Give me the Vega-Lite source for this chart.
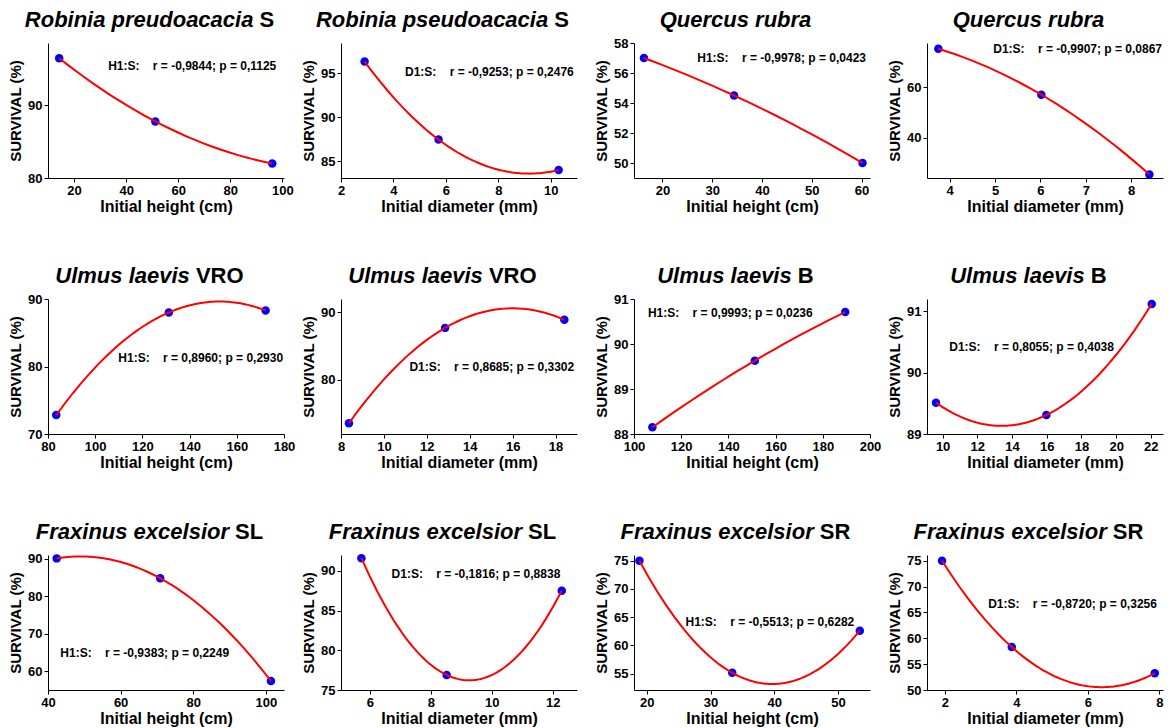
{
"$schema": "https://vega.github.io/schema/vega-lite/v6.json",
"background": "white",
"padding": {"left": 8, "top": 8, "right": 2, "bottom": 2},
"columns": 4,
"spacing": {"row": 121, "column": 57},
"bounds": "flush",
"config": {
 "font": "Liberation Sans",
 "view": {"stroke": null},
 "axis": {"grid": false, "domainColor": "#000000", "tickColor": "#000000", "labelColor": "#000000", "titleColor": "#000000", "labelFont": "Liberation Sans", "titleFont": "Liberation Sans", "labelFontWeight": "bold", "titleFontWeight": "bold", "labelFontSize": 13, "tickSize": 4, "labelPadding": 2, "domainWidth": 1, "tickWidth": 1, "labelFlush": false},
 "axisX": {"titleFontSize": 16, "titlePadding": 1},
 "axisY": {"titleFontSize": 15, "titlePadding": 4, "minExtent": 21, "maxExtent": 21},
 "text": {"font": "Liberation Sans"}
},
"concat": [
{"width":236,"height":135,
 "data":{"values":[{"x":14.3,"y":96.5},{"x":51.2,"y":87.8},{"x":96.1,"y":82.0}]},
 "resolve":{"axis":{"x":"independent","y":"independent"}},
 "layer":[
  {"mark":{"type":"circle","size":72,"color":"#0000ff","opacity":1},
   "encoding":{"x":{"field":"x","type":"quantitative","scale":{"domain":[10,100.6],"nice":false,"zero":false},"axis":{"orient":"bottom","title":"Initial height (cm)","values":[20,40,60,80,100]}},
     "y":{"field":"y","type":"quantitative","scale":{"domain":[80,98.6],"nice":false,"zero":false},"axis":{"orient":"left","title":"SURVIVAL (%)","values":[80,90]}}}},
  {"transform":[{"regression":"y","on":"x","method":"poly","order":2}],
   "mark":{"type":"line","color":"#ff0000","strokeWidth":2},
   "encoding":{"x":{"field":"x","type":"quantitative","scale":{"domain":[10,100.6],"nice":false,"zero":false},"axis":{"orient":"top","title":"Robinia preudoacacia","labels":false,"ticks":false,"domain":false,"titleFontStyle":"italic","titleFontSize":22,"titleX":-23.7,"titleY":-17,"titleAlign":"left","titleBaseline":"alphabetic"}},
     "y":{"field":"y","type":"quantitative","scale":{"domain":[80,98.6],"nice":false,"zero":false},"axis":{"orient":"right","title":"S","labels":false,"ticks":false,"domain":false,"titleFontSize":22,"titleAngle":0,"titleX":-25,"titleY":-17,"titleAlign":"left","titleBaseline":"alphabetic"}}}},
  {"data":{"values":[{"x":33.1,"y":95.4,"label":"H1:S:\u00a0\u00a0\u00a0\u00a0r = -0,9844; p = 0,1125"}]},
   "mark":{"type":"text","align":"left","baseline":"middle","fontSize":12,"fontWeight":"bold","color":"#000000"},
   "encoding":{"x":{"field":"x","type":"quantitative","scale":{"domain":[10,100.6],"nice":false,"zero":false},"axis":null},
     "y":{"field":"y","type":"quantitative","scale":{"domain":[80,98.6],"nice":false,"zero":false},"axis":null},"text":{"field":"label"}}}
 ]},
{"width":236,"height":135,
 "data":{"values":[{"x":2.9,"y":96.3},{"x":5.72,"y":87.45},{"x":10.3,"y":84.0}]},
 "resolve":{"axis":{"x":"independent","y":"independent"}},
 "layer":[
  {"mark":{"type":"circle","size":72,"color":"#0000ff","opacity":1},
   "encoding":{"x":{"field":"x","type":"quantitative","scale":{"domain":[2,11],"nice":false,"zero":false},"axis":{"orient":"bottom","title":"Initial diameter (mm)","values":[2,4,6,8,10]}},
     "y":{"field":"y","type":"quantitative","scale":{"domain":[83.1,98.4],"nice":false,"zero":false},"axis":{"orient":"left","title":"SURVIVAL (%)","values":[85,90,95]}}}},
  {"transform":[{"regression":"y","on":"x","method":"poly","order":2}],
   "mark":{"type":"line","color":"#ff0000","strokeWidth":2},
   "encoding":{"x":{"field":"x","type":"quantitative","scale":{"domain":[2,11],"nice":false,"zero":false},"axis":{"orient":"top","title":"Robinia pseudoacacia","labels":false,"ticks":false,"domain":false,"titleFontStyle":"italic","titleFontSize":22,"titleX":-25.6,"titleY":-17,"titleAlign":"left","titleBaseline":"alphabetic"}},
     "y":{"field":"y","type":"quantitative","scale":{"domain":[83.1,98.4],"nice":false,"zero":false},"axis":{"orient":"right","title":"S","labels":false,"ticks":false,"domain":false,"titleFontSize":22,"titleAngle":0,"titleX":-23.2,"titleY":-17,"titleAlign":"left","titleBaseline":"alphabetic"}}}},
  {"data":{"values":[{"x":4.44,"y":95.1,"label":"D1:S:\u00a0\u00a0\u00a0\u00a0r = -0,9253; p = 0,2476"}]},
   "mark":{"type":"text","align":"left","baseline":"middle","fontSize":12,"fontWeight":"bold","color":"#000000"},
   "encoding":{"x":{"field":"x","type":"quantitative","scale":{"domain":[2,11],"nice":false,"zero":false},"axis":null},
     "y":{"field":"y","type":"quantitative","scale":{"domain":[83.1,98.4],"nice":false,"zero":false},"axis":null},"text":{"field":"label"}}}
 ]},
{"width":236,"height":135,
 "data":{"values":[{"x":16.3,"y":57.0},{"x":34.4,"y":54.5},{"x":60.2,"y":50.0}]},
 "resolve":{"axis":{"x":"independent","y":"independent"}},
 "layer":[
  {"mark":{"type":"circle","size":72,"color":"#0000ff","opacity":1},
   "encoding":{"x":{"field":"x","type":"quantitative","scale":{"domain":[14.3,61.7],"nice":false,"zero":false},"axis":{"orient":"bottom","title":"Initial height (cm)","values":[20,30,40,50,60]}},
     "y":{"field":"y","type":"quantitative","scale":{"domain":[49,58],"nice":false,"zero":false},"axis":{"orient":"left","title":"SURVIVAL (%)","values":[50,52,54,56,58]}}}},
  {"transform":[{"regression":"y","on":"x","method":"poly","order":2}],
   "mark":{"type":"line","color":"#ff0000","strokeWidth":2},
   "encoding":{"x":{"field":"x","type":"quantitative","scale":{"domain":[14.3,61.7],"nice":false,"zero":false},"axis":{"orient":"top","title":"Quercus rubra","labels":false,"ticks":false,"domain":false,"titleFontStyle":"italic","titleFontSize":22,"titleX":101,"titleY":-17,"titleAlign":"center","titleBaseline":"alphabetic"}},
     "y":{"field":"y","type":"quantitative","scale":{"domain":[49,58],"nice":false,"zero":false},"axis":null}}},
  {"data":{"values":[{"x":27.0,"y":57.0,"label":"H1:S:\u00a0\u00a0\u00a0\u00a0r = -0,9978; p = 0,0423"}]},
   "mark":{"type":"text","align":"left","baseline":"middle","fontSize":12,"fontWeight":"bold","color":"#000000"},
   "encoding":{"x":{"field":"x","type":"quantitative","scale":{"domain":[14.3,61.7],"nice":false,"zero":false},"axis":null},
     "y":{"field":"y","type":"quantitative","scale":{"domain":[49,58],"nice":false,"zero":false},"axis":null},"text":{"field":"label"}}}
 ]},
{"width":236,"height":135,
 "data":{"values":[{"x":3.75,"y":75.2},{"x":6.02,"y":57.0},{"x":8.4,"y":25.4}]},
 "resolve":{"axis":{"x":"independent","y":"independent"}},
 "layer":[
  {"mark":{"type":"circle","size":72,"color":"#0000ff","opacity":1},
   "encoding":{"x":{"field":"x","type":"quantitative","scale":{"domain":[3.5,8.7],"nice":false,"zero":false},"axis":{"orient":"bottom","title":"Initial diameter (mm)","values":[4,5,6,7,8]}},
     "y":{"field":"y","type":"quantitative","scale":{"domain":[24,77.5],"nice":false,"zero":false},"axis":{"orient":"left","title":"SURVIVAL (%)","values":[40,60]}}}},
  {"transform":[{"regression":"y","on":"x","method":"poly","order":2}],
   "mark":{"type":"line","color":"#ff0000","strokeWidth":2},
   "encoding":{"x":{"field":"x","type":"quantitative","scale":{"domain":[3.5,8.7],"nice":false,"zero":false},"axis":{"orient":"top","title":"Quercus rubra","labels":false,"ticks":false,"domain":false,"titleFontStyle":"italic","titleFontSize":22,"titleX":101,"titleY":-17,"titleAlign":"center","titleBaseline":"alphabetic"}},
     "y":{"field":"y","type":"quantitative","scale":{"domain":[24,77.5],"nice":false,"zero":false},"axis":null}}},
  {"data":{"values":[{"x":4.96,"y":75.3,"label":"D1:S:\u00a0\u00a0\u00a0\u00a0r = -0,9907; p = 0,0867"}]},
   "mark":{"type":"text","align":"left","baseline":"middle","fontSize":12,"fontWeight":"bold","color":"#000000"},
   "encoding":{"x":{"field":"x","type":"quantitative","scale":{"domain":[3.5,8.7],"nice":false,"zero":false},"axis":null},
     "y":{"field":"y","type":"quantitative","scale":{"domain":[24,77.5],"nice":false,"zero":false},"axis":null},"text":{"field":"label"}}}
 ]},
{"width":236,"height":135,
 "data":{"values":[{"x":83.5,"y":72.8},{"x":131.2,"y":88.0},{"x":172.2,"y":88.3}]},
 "resolve":{"axis":{"x":"independent","y":"independent"}},
 "layer":[
  {"mark":{"type":"circle","size":72,"color":"#0000ff","opacity":1},
   "encoding":{"x":{"field":"x","type":"quantitative","scale":{"domain":[80,180],"nice":false,"zero":false},"axis":{"orient":"bottom","title":"Initial height (cm)","values":[80,100,120,140,160,180]}},
     "y":{"field":"y","type":"quantitative","scale":{"domain":[70,90],"nice":false,"zero":false},"axis":{"orient":"left","title":"SURVIVAL (%)","values":[70,80,90]}}}},
  {"transform":[{"regression":"y","on":"x","method":"poly","order":2}],
   "mark":{"type":"line","color":"#ff0000","strokeWidth":2},
   "encoding":{"x":{"field":"x","type":"quantitative","scale":{"domain":[80,180],"nice":false,"zero":false},"axis":{"orient":"top","title":"Ulmus laevis","labels":false,"ticks":false,"domain":false,"titleFontStyle":"italic","titleFontSize":22,"titleX":6.8,"titleY":-17,"titleAlign":"left","titleBaseline":"alphabetic"}},
     "y":{"field":"y","type":"quantitative","scale":{"domain":[70,90],"nice":false,"zero":false},"axis":{"orient":"right","title":"VRO","labels":false,"ticks":false,"domain":false,"titleFontSize":22,"titleAngle":0,"titleX":-88.6,"titleY":-17,"titleAlign":"left","titleBaseline":"alphabetic"}}}},
  {"data":{"values":[{"x":109.8,"y":81.2,"label":"H1:S:\u00a0\u00a0\u00a0\u00a0r = 0,8960; p = 0,2930"}]},
   "mark":{"type":"text","align":"left","baseline":"middle","fontSize":12,"fontWeight":"bold","color":"#000000"},
   "encoding":{"x":{"field":"x","type":"quantitative","scale":{"domain":[80,180],"nice":false,"zero":false},"axis":null},
     "y":{"field":"y","type":"quantitative","scale":{"domain":[70,90],"nice":false,"zero":false},"axis":null},"text":{"field":"label"}}}
 ]},
{"width":236,"height":135,
 "data":{"values":[{"x":8.37,"y":73.5},{"x":12.85,"y":87.7},{"x":18.41,"y":88.9}]},
 "resolve":{"axis":{"x":"independent","y":"independent"}},
 "layer":[
  {"mark":{"type":"circle","size":72,"color":"#0000ff","opacity":1},
   "encoding":{"x":{"field":"x","type":"quantitative","scale":{"domain":[8,19],"nice":false,"zero":false},"axis":{"orient":"bottom","title":"Initial diameter (mm)","values":[8,10,12,14,16,18]}},
     "y":{"field":"y","type":"quantitative","scale":{"domain":[71.9,92],"nice":false,"zero":false},"axis":{"orient":"left","title":"SURVIVAL (%)","values":[80,90]}}}},
  {"transform":[{"regression":"y","on":"x","method":"poly","order":2}],
   "mark":{"type":"line","color":"#ff0000","strokeWidth":2},
   "encoding":{"x":{"field":"x","type":"quantitative","scale":{"domain":[8,19],"nice":false,"zero":false},"axis":{"orient":"top","title":"Ulmus laevis","labels":false,"ticks":false,"domain":false,"titleFontStyle":"italic","titleFontSize":22,"titleX":6.8,"titleY":-17,"titleAlign":"left","titleBaseline":"alphabetic"}},
     "y":{"field":"y","type":"quantitative","scale":{"domain":[71.9,92],"nice":false,"zero":false},"axis":{"orient":"right","title":"VRO","labels":false,"ticks":false,"domain":false,"titleFontSize":22,"titleAngle":0,"titleX":-88.6,"titleY":-17,"titleAlign":"left","titleBaseline":"alphabetic"}}}},
  {"data":{"values":[{"x":11.19,"y":81.9,"label":"D1:S:\u00a0\u00a0\u00a0\u00a0r = 0,8685; p = 0,3302"}]},
   "mark":{"type":"text","align":"left","baseline":"middle","fontSize":12,"fontWeight":"bold","color":"#000000"},
   "encoding":{"x":{"field":"x","type":"quantitative","scale":{"domain":[8,19],"nice":false,"zero":false},"axis":null},
     "y":{"field":"y","type":"quantitative","scale":{"domain":[71.9,92],"nice":false,"zero":false},"axis":null},"text":{"field":"label"}}}
 ]},
{"width":236,"height":135,
 "data":{"values":[{"x":107.8,"y":88.15},{"x":151.2,"y":89.63},{"x":189.5,"y":90.71}]},
 "resolve":{"axis":{"x":"independent","y":"independent"}},
 "layer":[
  {"mark":{"type":"circle","size":72,"color":"#0000ff","opacity":1},
   "encoding":{"x":{"field":"x","type":"quantitative","scale":{"domain":[100,200],"nice":false,"zero":false},"axis":{"orient":"bottom","title":"Initial height (cm)","values":[100,120,140,160,180,200]}},
     "y":{"field":"y","type":"quantitative","scale":{"domain":[88,91],"nice":false,"zero":false},"axis":{"orient":"left","title":"SURVIVAL (%)","values":[88,89,90,91]}}}},
  {"transform":[{"regression":"y","on":"x","method":"poly","order":2}],
   "mark":{"type":"line","color":"#ff0000","strokeWidth":2},
   "encoding":{"x":{"field":"x","type":"quantitative","scale":{"domain":[100,200],"nice":false,"zero":false},"axis":{"orient":"top","title":"Ulmus laevis","labels":false,"ticks":false,"domain":false,"titleFontStyle":"italic","titleFontSize":22,"titleX":22.7,"titleY":-17,"titleAlign":"left","titleBaseline":"alphabetic"}},
     "y":{"field":"y","type":"quantitative","scale":{"domain":[88,91],"nice":false,"zero":false},"axis":{"orient":"right","title":"B","labels":false,"ticks":false,"domain":false,"titleFontSize":22,"titleAngle":0,"titleX":-72.7,"titleY":-17,"titleAlign":"left","titleBaseline":"alphabetic"}}}},
  {"data":{"values":[{"x":105.9,"y":90.68,"label":"H1:S:\u00a0\u00a0\u00a0\u00a0r = 0,9993; p = 0,0236"}]},
   "mark":{"type":"text","align":"left","baseline":"middle","fontSize":12,"fontWeight":"bold","color":"#000000"},
   "encoding":{"x":{"field":"x","type":"quantitative","scale":{"domain":[100,200],"nice":false,"zero":false},"axis":null},
     "y":{"field":"y","type":"quantitative","scale":{"domain":[88,91],"nice":false,"zero":false},"axis":null},"text":{"field":"label"}}}
 ]},
{"width":236,"height":135,
 "data":{"values":[{"x":9.62,"y":89.51},{"x":15.98,"y":89.31},{"x":22.05,"y":91.12}]},
 "resolve":{"axis":{"x":"independent","y":"independent"}},
 "layer":[
  {"mark":{"type":"circle","size":72,"color":"#0000ff","opacity":1},
   "encoding":{"x":{"field":"x","type":"quantitative","scale":{"domain":[9.1,22.7],"nice":false,"zero":false},"axis":{"orient":"bottom","title":"Initial diameter (mm)","values":[10,12,14,16,18,20,22]}},
     "y":{"field":"y","type":"quantitative","scale":{"domain":[89,91.2],"nice":false,"zero":false},"axis":{"orient":"left","title":"SURVIVAL (%)","values":[89,90,91]}}}},
  {"transform":[{"regression":"y","on":"x","method":"poly","order":2}],
   "mark":{"type":"line","color":"#ff0000","strokeWidth":2},
   "encoding":{"x":{"field":"x","type":"quantitative","scale":{"domain":[9.1,22.7],"nice":false,"zero":false},"axis":{"orient":"top","title":"Ulmus laevis","labels":false,"ticks":false,"domain":false,"titleFontStyle":"italic","titleFontSize":22,"titleX":22.7,"titleY":-17,"titleAlign":"left","titleBaseline":"alphabetic"}},
     "y":{"field":"y","type":"quantitative","scale":{"domain":[89,91.2],"nice":false,"zero":false},"axis":{"orient":"right","title":"B","labels":false,"ticks":false,"domain":false,"titleFontSize":22,"titleAngle":0,"titleX":-72.7,"titleY":-17,"titleAlign":"left","titleBaseline":"alphabetic"}}}},
  {"data":{"values":[{"x":10.38,"y":90.42,"label":"D1:S:\u00a0\u00a0\u00a0\u00a0r = 0,8055; p = 0,4038"}]},
   "mark":{"type":"text","align":"left","baseline":"middle","fontSize":12,"fontWeight":"bold","color":"#000000"},
   "encoding":{"x":{"field":"x","type":"quantitative","scale":{"domain":[9.1,22.7],"nice":false,"zero":false},"axis":null},
     "y":{"field":"y","type":"quantitative","scale":{"domain":[89,91.2],"nice":false,"zero":false},"axis":null},"text":{"field":"label"}}}
 ]},
{"width":236,"height":135,
 "data":{"values":[{"x":42.4,"y":90.1},{"x":70.9,"y":84.8},{"x":101.4,"y":57.4}]},
 "resolve":{"axis":{"x":"independent","y":"independent"}},
 "layer":[
  {"mark":{"type":"circle","size":72,"color":"#0000ff","opacity":1},
   "encoding":{"x":{"field":"x","type":"quantitative","scale":{"domain":[40,105],"nice":false,"zero":false},"axis":{"orient":"bottom","title":"Initial height (cm)","values":[40,60,80,100]}},
     "y":{"field":"y","type":"quantitative","scale":{"domain":[55,91],"nice":false,"zero":false},"axis":{"orient":"left","title":"SURVIVAL (%)","values":[60,70,80,90]}}}},
  {"transform":[{"regression":"y","on":"x","method":"poly","order":2}],
   "mark":{"type":"line","color":"#ff0000","strokeWidth":2},
   "encoding":{"x":{"field":"x","type":"quantitative","scale":{"domain":[40,105],"nice":false,"zero":false},"axis":{"orient":"top","title":"Fraxinus excelsior","labels":false,"ticks":false,"domain":false,"titleFontStyle":"italic","titleFontSize":22,"titleX":-12.7,"titleY":-17,"titleAlign":"left","titleBaseline":"alphabetic"}},
     "y":{"field":"y","type":"quantitative","scale":{"domain":[55,91],"nice":false,"zero":false},"axis":{"orient":"right","title":"SL","labels":false,"ticks":false,"domain":false,"titleFontSize":22,"titleAngle":0,"titleX":-49.4,"titleY":-17,"titleAlign":"left","titleBaseline":"alphabetic"}}}},
  {"data":{"values":[{"x":43.4,"y":64.9,"label":"H1:S:\u00a0\u00a0\u00a0\u00a0r = -0,9383; p = 0,2249"}]},
   "mark":{"type":"text","align":"left","baseline":"middle","fontSize":12,"fontWeight":"bold","color":"#000000"},
   "encoding":{"x":{"field":"x","type":"quantitative","scale":{"domain":[40,105],"nice":false,"zero":false},"axis":null},
     "y":{"field":"y","type":"quantitative","scale":{"domain":[55,91],"nice":false,"zero":false},"axis":null},"text":{"field":"label"}}}
 ]},
{"width":236,"height":135,
 "data":{"values":[{"x":5.72,"y":91.6},{"x":8.52,"y":76.9},{"x":12.3,"y":87.5}]},
 "resolve":{"axis":{"x":"independent","y":"independent"}},
 "layer":[
  {"mark":{"type":"circle","size":72,"color":"#0000ff","opacity":1},
   "encoding":{"x":{"field":"x","type":"quantitative","scale":{"domain":[5.05,12.8],"nice":false,"zero":false},"axis":{"orient":"bottom","title":"Initial diameter (mm)","values":[6,8,10,12]}},
     "y":{"field":"y","type":"quantitative","scale":{"domain":[75,92],"nice":false,"zero":false},"axis":{"orient":"left","title":"SURVIVAL (%)","values":[75,80,85,90]}}}},
  {"transform":[{"regression":"y","on":"x","method":"poly","order":2}],
   "mark":{"type":"line","color":"#ff0000","strokeWidth":2},
   "encoding":{"x":{"field":"x","type":"quantitative","scale":{"domain":[5.05,12.8],"nice":false,"zero":false},"axis":{"orient":"top","title":"Fraxinus excelsior","labels":false,"ticks":false,"domain":false,"titleFontStyle":"italic","titleFontSize":22,"titleX":-12.7,"titleY":-17,"titleAlign":"left","titleBaseline":"alphabetic"}},
     "y":{"field":"y","type":"quantitative","scale":{"domain":[75,92],"nice":false,"zero":false},"axis":{"orient":"right","title":"SL","labels":false,"ticks":false,"domain":false,"titleFontSize":22,"titleAngle":0,"titleX":-49.4,"titleY":-17,"titleAlign":"left","titleBaseline":"alphabetic"}}}},
  {"data":{"values":[{"x":6.71,"y":89.6,"label":"D1:S:\u00a0\u00a0\u00a0\u00a0r = -0,1816; p = 0,8838"}]},
   "mark":{"type":"text","align":"left","baseline":"middle","fontSize":12,"fontWeight":"bold","color":"#000000"},
   "encoding":{"x":{"field":"x","type":"quantitative","scale":{"domain":[5.05,12.8],"nice":false,"zero":false},"axis":null},
     "y":{"field":"y","type":"quantitative","scale":{"domain":[75,92],"nice":false,"zero":false},"axis":null},"text":{"field":"label"}}}
 ]},
{"width":236,"height":135,
 "data":{"values":[{"x":18.85,"y":75.0},{"x":33.4,"y":55.15},{"x":53.4,"y":62.6}]},
 "resolve":{"axis":{"x":"independent","y":"independent"}},
 "layer":[
  {"mark":{"type":"circle","size":72,"color":"#0000ff","opacity":1},
   "encoding":{"x":{"field":"x","type":"quantitative","scale":{"domain":[18,55],"nice":false,"zero":false},"axis":{"orient":"bottom","title":"Initial height (cm)","values":[20,30,40,50]}},
     "y":{"field":"y","type":"quantitative","scale":{"domain":[52.1,76],"nice":false,"zero":false},"axis":{"orient":"left","title":"SURVIVAL (%)","values":[55,60,65,70,75]}}}},
  {"transform":[{"regression":"y","on":"x","method":"poly","order":2}],
   "mark":{"type":"line","color":"#ff0000","strokeWidth":2},
   "encoding":{"x":{"field":"x","type":"quantitative","scale":{"domain":[18,55],"nice":false,"zero":false},"axis":{"orient":"top","title":"Fraxinus excelsior","labels":false,"ticks":false,"domain":false,"titleFontStyle":"italic","titleFontSize":22,"titleX":-14,"titleY":-17,"titleAlign":"left","titleBaseline":"alphabetic"}},
     "y":{"field":"y","type":"quantitative","scale":{"domain":[52.1,76],"nice":false,"zero":false},"axis":{"orient":"right","title":"SR","labels":false,"ticks":false,"domain":false,"titleFontSize":22,"titleAngle":0,"titleX":-50.7,"titleY":-17,"titleAlign":"left","titleBaseline":"alphabetic"}}}},
  {"data":{"values":[{"x":26.07,"y":64.2,"label":"H1:S:\u00a0\u00a0\u00a0\u00a0r = -0,5513; p = 0,6282"}]},
   "mark":{"type":"text","align":"left","baseline":"middle","fontSize":12,"fontWeight":"bold","color":"#000000"},
   "encoding":{"x":{"field":"x","type":"quantitative","scale":{"domain":[18,55],"nice":false,"zero":false},"axis":null},
     "y":{"field":"y","type":"quantitative","scale":{"domain":[52.1,76],"nice":false,"zero":false},"axis":null},"text":{"field":"label"}}}
 ]},
{"width":236,"height":135,
 "data":{"values":[{"x":1.92,"y":75.0},{"x":3.87,"y":58.3},{"x":7.87,"y":53.25}]},
 "resolve":{"axis":{"x":"independent","y":"independent"}},
 "layer":[
  {"mark":{"type":"circle","size":72,"color":"#0000ff","opacity":1},
   "encoding":{"x":{"field":"x","type":"quantitative","scale":{"domain":[1.5,8.1],"nice":false,"zero":false},"axis":{"orient":"bottom","title":"Initial diameter (mm)","values":[2,4,6,8]}},
     "y":{"field":"y","type":"quantitative","scale":{"domain":[50,76.1],"nice":false,"zero":false},"axis":{"orient":"left","title":"SURVIVAL (%)","values":[50,55,60,65,70,75]}}}},
  {"transform":[{"regression":"y","on":"x","method":"poly","order":2}],
   "mark":{"type":"line","color":"#ff0000","strokeWidth":2},
   "encoding":{"x":{"field":"x","type":"quantitative","scale":{"domain":[1.5,8.1],"nice":false,"zero":false},"axis":{"orient":"top","title":"Fraxinus excelsior","labels":false,"ticks":false,"domain":false,"titleFontStyle":"italic","titleFontSize":22,"titleX":-14,"titleY":-17,"titleAlign":"left","titleBaseline":"alphabetic"}},
     "y":{"field":"y","type":"quantitative","scale":{"domain":[50,76.1],"nice":false,"zero":false},"axis":{"orient":"right","title":"SR","labels":false,"ticks":false,"domain":false,"titleFontSize":22,"titleAngle":0,"titleX":-50.7,"titleY":-17,"titleAlign":"left","titleBaseline":"alphabetic"}}}},
  {"data":{"values":[{"x":3.21,"y":66.7,"label":"D1:S:\u00a0\u00a0\u00a0\u00a0r = -0,8720; p = 0,3256"}]},
   "mark":{"type":"text","align":"left","baseline":"middle","fontSize":12,"fontWeight":"bold","color":"#000000"},
   "encoding":{"x":{"field":"x","type":"quantitative","scale":{"domain":[1.5,8.1],"nice":false,"zero":false},"axis":null},
     "y":{"field":"y","type":"quantitative","scale":{"domain":[50,76.1],"nice":false,"zero":false},"axis":null},"text":{"field":"label"}}}
 ]}
]
}
